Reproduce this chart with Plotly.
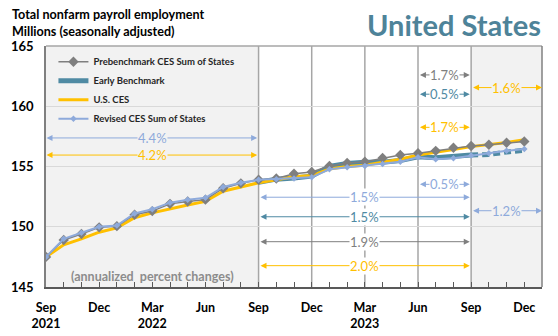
import plotly.graph_objects as go

# ---- data (month index 0 = Sep 2021 ... 27 = Dec 2023) ----
months = list(range(28))
prebench = [147.5, 148.9, 149.4, 149.95, 150.05, 151.0, 151.3, 151.9, 152.1, 152.25,
            153.2, 153.6, 153.9, 154.0, 154.4, 154.55, 155.05, 155.3, 155.4, 155.7,
            155.95, 156.1, 156.3, 156.55, 156.7, 156.8, 156.97, 157.08]
us_ces = [147.5, 148.5, 149.0, 149.55, 149.9, 150.75, 151.15, 151.5, 151.8, 152.1,
          152.95, 153.3, 153.65, 153.9, 154.15, 154.25, 154.8, 155.0, 155.1, 155.35,
          155.6, 155.95, 156.15, 156.4, 156.65, 156.8, 157.0, 157.22]
revised = [147.5, 149.0, 149.5, 150.0, 150.1, 151.1, 151.45, 152.0, 152.25, 152.4,
           153.3, 153.65, 153.9, 153.95, 154.0, 154.1, 154.77, 154.93, 155.04, 155.2,
           155.4, 155.76, 155.6, 155.68, 155.92, 156.1, 156.3, 156.45]
early_months = list(range(12, 25))
early = [153.7, 153.95, 154.05, 154.2, 155.0, 155.25, 155.35, 155.35, 155.5, 155.8,
         155.72, 155.82, 155.95]
early_ext_months = [24, 25, 26, 27]
early_ext = [155.95, 156.0, 156.2, 156.35]

tick_months = [0, 3, 6, 9, 12, 15, 18, 21, 24, 27]
tick_text = ["Sep<br>2021", "Dec", "Mar<br>2022", "Jun", "Sep", "Dec", "Mar<br>2023", "Jun", "Sep", "Dec"]

# annualized percent change labels: (start month, end month, label, series)
changes = [
    (0, 12, "4.4%", "revised"),
    (0, 12, "4.2%", "ces"),
    (12, 24, "1.5%", "revised"),
    (12, 24, "1.5%", "early"),
    (12, 24, "1.9%", "pre"),
    (12, 24, "2.0%", "ces"),
    (21, 24, "1.7%", "pre"),
    (21, 24, "0.5%", "early"),
    (21, 24, "1.7%", "ces"),
    (21, 24, "0.5%", "revised"),
    (24, 28, "1.6%", "ces"),
    (24, 28, "1.2%", "revised"),
]

# ---- styles ----
C_PRE = "#7f7f7f"
C_EARLY = "#4f8aa3"
C_CES = "#ffc000"
C_REV = "#8eaadb"
COLORS = {"pre": C_PRE, "early": C_EARLY, "ces": C_CES, "revised": C_REV}
SHADE = "#f2f2f2"
FONT = "Lato"
label_y = [157.37, 155.95, 152.45, 150.83, 148.76, 146.77, 162.6, 161.0, 158.25, 153.52, 161.55, 151.33]

fig = go.Figure()
fig.add_trace(go.Scatter(x=early_months, y=early, mode="lines", name="Early Benchmark",
                         line=dict(color=C_EARLY, width=5), legendrank=2))
fig.add_trace(go.Scatter(x=early_ext_months, y=early_ext, mode="lines", showlegend=False,
                         line=dict(color=C_EARLY, width=5, dash="7px,4px")))
fig.add_trace(go.Scatter(x=months, y=us_ces, mode="lines", name="U.S. CES",
                         line=dict(color=C_CES, width=3), legendrank=3))
fig.add_trace(go.Scatter(x=months, y=prebench, mode="lines+markers", name="Prebenchmark CES Sum of States",
                         line=dict(color=C_PRE, width=1.5),
                         marker=dict(symbol="diamond", size=8, color=C_PRE), legendrank=1))
fig.add_trace(go.Scatter(x=months, y=revised, mode="lines+markers", name="Revised CES Sum of States",
                         line=dict(color=C_REV, width=2),
                         marker=dict(symbol="diamond", size=5, color=C_REV), legendrank=4))

shapes = [
    dict(type="rect", xref="x", yref="paper", x0=0, x1=12, y0=0, y1=1, fillcolor=SHADE,
         line_width=0, layer="below"),
    dict(type="rect", xref="x", yref="paper", x0=24, x1=28, y0=0, y1=1, fillcolor=SHADE,
         line_width=0, layer="below"),
]
for xv in [12, 15, 18, 21, 24]:
    shapes.append(dict(type="line", xref="x", yref="paper", x0=xv, x1=xv, y0=0, y1=1,
                       line=dict(color="#a6a6a6", width=1.5), layer="below"))

annotations = []
for (s, e, txt, ser), yv in zip(changes, label_y):
    col = COLORS[ser]
    x0 = s + (0.08 if s > 0 else 0)
    x1 = e - (0.08 if e < 28 else 0)
    annotations.append(dict(x=x1, y=yv, ax=x0, ay=yv, xref="x", yref="y", axref="x", ayref="y",
                            text="", showarrow=True, arrowside="end+start", arrowhead=2,
                            arrowsize=1.2, arrowwidth=1, arrowcolor=col, borderpad=0))
    bg = "white" if (s >= 12 and e <= 24) else SHADE
    annotations.append(dict(x=(s + e) / 2, y=yv, xref="x", yref="y", text=txt, showarrow=False,
                            font=dict(family=FONT, size=13, color=col), bgcolor=bg, borderpad=0))

W, H = 558, 336
ML, MR, MT, MB = 46, 16, 46, 49


def px_x(v):
    return (v - ML) / (W - ML - MR)


def px_y(v):
    return 1 + (MT - v) / (H - MT - MB)


annotations += [
    dict(x=6, y=145.9, xref="x", yref="y", text="(annualized  percent changes)", showarrow=False,
         font=dict(family=FONT, size=12.5, color="#8c8c8c", weight="bold")),
    dict(x=px_x(10), y=px_y(14), xref="paper", yref="paper", xanchor="left", yanchor="middle",
         text="Total nonfarm payroll employment", showarrow=False,
         font=dict(family=FONT, size=12.6, color="black", weight="bold")),
    dict(x=px_x(10), y=px_y(32), xref="paper", yref="paper", xanchor="left", yanchor="middle",
         text="Millions (seasonally adjusted)", showarrow=False,
         font=dict(family=FONT, size=12.6, color="black", weight="bold")),
    dict(x=px_x(543), y=px_y(24), xref="paper", yref="paper", xanchor="right", yanchor="middle",
         text="United States", showarrow=False,
         font=dict(family=FONT, size=29, color="#4e8399", weight="bold")),
]

fig.update_layout(
    width=W, height=H,
    margin=dict(l=ML, r=MR, t=MT, b=MB, autoexpand=False),
    paper_bgcolor="white", plot_bgcolor="white",
    font=dict(family=FONT, size=12, color="black"),
    shapes=shapes, annotations=annotations,
    legend=dict(x=0.015, y=0.995, xanchor="left", yanchor="top", bgcolor="rgba(0,0,0,0)",
                font=dict(family=FONT, size=9.5, color="#262626", weight="bold"),
                tracegroupgap=0, itemwidth=30),
    xaxis=dict(range=[0, 28], tickmode="array", tickvals=tick_months, ticktext=tick_text,
               ticks="inside", ticklen=5, tickcolor="#595959", showgrid=False, zeroline=False,
               showline=True, linecolor="#595959", linewidth=1.5, mirror=False,
               ticklabelstandoff=8, automargin=False,
               tickfont=dict(family=FONT, size=12.5, weight="bold"),
               minor=dict(tickmode="array", tickvals=months, ticks="inside", ticklen=5,
                          tickcolor="#595959", showgrid=False)),
    yaxis=dict(range=[145, 165], tickvals=[145, 150, 155, 160, 165], showgrid=True,
               gridcolor="#d9d9d9", gridwidth=1, zeroline=False, showline=True,
               linecolor="#808080", linewidth=1.5, ticks="", ticklabelstandoff=8,
               automargin=False,
               tickfont=dict(family=FONT, size=13, weight="bold")),
)
# frame on top and right
fig.add_shape(type="line", xref="paper", yref="paper", x0=0, x1=1, y0=1, y1=1,
              line=dict(color="#a6a6a6", width=1.5))
fig.add_shape(type="line", xref="paper", yref="paper", x0=1, x1=1, y0=0, y1=1,
              line=dict(color="#808080", width=1.5))

fig.write_html("out.html")
